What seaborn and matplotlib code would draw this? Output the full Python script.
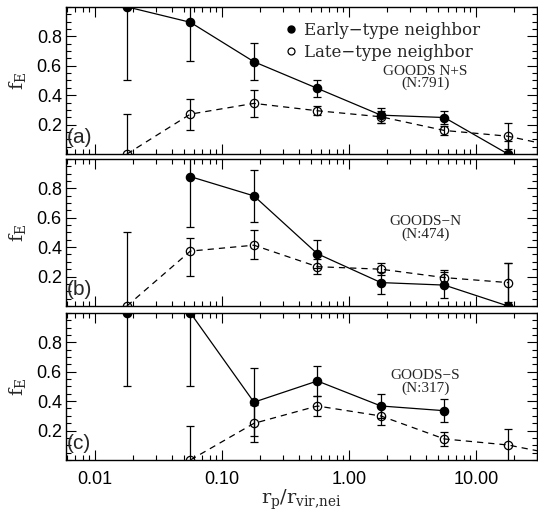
import numpy as np
import pandas as pd
import matplotlib
matplotlib.use("Agg")
import matplotlib.pyplot as plt
from matplotlib.lines import Line2D
from matplotlib.ticker import FixedLocator, MultipleLocator, LogLocator, NullFormatter
import seaborn as sns

# Projected separation bins (r_p / r_vir of the neighbour)
rp_bins = [0.0178, 0.0562, 0.178, 0.562, 1.78, 5.62, 17.8, 56.2]

# GOODS N+S
ns_early = [1.00, 0.895, 0.627, 0.446, 0.264, 0.248, 0.0]
ns_early_err = [0.50, 0.26, 0.124, 0.06, 0.05, 0.045, 0.09]
ns_late = [0.0, 0.271, 0.344, 0.294, 0.253, 0.160, 0.121, 0.028]
ns_late_err = [0.27, 0.105, 0.09, 0.03, 0.04, 0.03, 0.09, 0.0]

# GOODS-N
n_early = [np.nan, 0.879, 0.748, 0.355, 0.159, 0.142, 0.0]
n_early_err = [0.0, 0.345, 0.178, 0.095, 0.075, 0.09, 0.29]
n_late = [0.0, 0.373, 0.413, 0.267, 0.250, 0.193, 0.159]
n_late_err_lo = [0.0, 0.166, 0.097, 0.05, 0.04, 0.05, 0.13]
n_late_err_hi = [0.50, 0.09, 0.104, 0.05, 0.04, 0.05, 0.13]

# GOODS-S
s_early = [1.00, 1.00, 0.393, 0.537, 0.367, 0.335]
s_early_err = [0.50, 0.50, 0.23, 0.105, 0.08, 0.08]
s_late = [np.nan, 0.0, 0.249, 0.367, 0.299, 0.143, 0.102, 0.017]
s_late_err = [0.0, 0.234, 0.124, 0.07, 0.06, 0.05, 0.11, 0.0]

panel_tags = ["(a)", "(b)", "(c)"]
field_names = ["GOODS N+S\n(N:791)", "GOODS\u2212N\n(N:474)", "GOODS\u2212S\n(N:317)"]
legend_labels = ["Early\u2212type neighbor", "Late\u2212type neighbor"]
x_ticks = [0.01, 0.1, 1.0, 10.0]
x_ticklabels = ["0.01", "0.10", "1.00", "10.00"]
y_ticks = [0.2, 0.4, 0.6, 0.8]

sns.set_theme(style="ticks")
plt.rcParams["font.family"] = ["Liberation Sans", "DejaVu Sans"]
plt.rcParams["mathtext.fontset"] = "dejavuserif"

fig = plt.figure(figsize=(5.38, 5.11), dpi=100)
left, width, height = 0.1227, 0.875, 0.288
bottoms = [0.6986, 0.4012, 0.0998]
axes = [fig.add_axes([left, b, width, height]) for b in bottoms]


def series_frame(y, yerr_lo, yerr_hi):
    n = len(y)
    return pd.DataFrame({"x": rp_bins[:n], "y": y,
                         "lo": yerr_lo, "hi": yerr_hi}).dropna(subset=["y"])


panels = [
    (series_frame(ns_early, ns_early_err, ns_early_err),
     series_frame(ns_late, ns_late_err, ns_late_err)),
    (series_frame(n_early, n_early_err, n_early_err),
     series_frame(n_late, n_late_err_lo, n_late_err_hi)),
    (series_frame(s_early, s_early_err, s_early_err),
     series_frame(s_late, s_late_err, s_late_err)),
]

for i, (ax, (early, late)) in enumerate(zip(axes, panels)):
    for df, ls, face in [(early, "-", "black"), (late, (0, (5, 4)), "none")]:
        sns.lineplot(data=df, x="x", y="y", ax=ax, color="black", lw=0.9,
                     linestyle=ls, marker="o", markersize=6,
                     markerfacecolor=face, markeredgecolor="black",
                     markeredgewidth=0.9, estimator=None, sort=False)
        ax.errorbar(df["x"], df["y"], yerr=[df["lo"], df["hi"]], fmt="none",
                    ecolor="black", elinewidth=0.9, capsize=3, capthick=0.9)

    ax.set_xscale("log")
    ax.set_xlim(0.0059, 30)
    ax.set_ylim(0, 1.0)
    ax.xaxis.set_major_locator(FixedLocator(x_ticks))
    ax.xaxis.set_minor_locator(LogLocator(base=10, subs=np.arange(2, 10)))
    ax.xaxis.set_minor_formatter(NullFormatter())
    ax.yaxis.set_major_locator(FixedLocator(y_ticks))
    ax.yaxis.set_minor_locator(MultipleLocator(0.05))
    ax.tick_params(which="both", direction="in", top=True, right=True,
                   width=0.8, colors="black")
    ax.tick_params(which="major", length=7, labelsize=13, pad=3)
    ax.tick_params(axis="x", which="major", pad=8)
    ax.tick_params(which="minor", length=3.5)
    for sp in ax.spines.values():
        sp.set_linewidth(1.0)
        sp.set_color("black")
    ax.set_yticklabels([f"{t:.1f}" for t in y_ticks])
    if i < 2:
        ax.set_xticklabels([])
        ax.set_xlabel("")
    else:
        ax.set_xticklabels(x_ticklabels)
        ax.set_xlabel(r"$\mathrm{r_p/r_{vir{,}nei}}$", fontsize=14, labelpad=0)
    ax.set_ylabel(r"$\mathrm{f_E}$", fontsize=14, labelpad=6)

    ax.text(0.006, 0.11, panel_tags[i], transform=ax.transData, fontsize=15,
            ha="left", va="center")
    ypos = 0.52 if i == 0 else 0.53
    ax.text(0.763, ypos, field_names[i], transform=ax.transAxes,
            fontsize=11, family=["Liberation Serif", "DejaVu Serif"],
            ha="center", va="center", linespacing=0.92)

handles = [
    Line2D([], [], ls="none", marker="o", markersize=5, color="black",
           markerfacecolor="black"),
    Line2D([], [], ls="none", marker="o", markersize=5, color="black",
           markerfacecolor="none", markeredgewidth=0.9),
]
axes[0].legend(handles, legend_labels, loc="upper left",
               bbox_to_anchor=(0.435, 1.0), frameon=False, handlelength=0.6,
               handletextpad=0.5, labelspacing=0.28,
               prop={"family": ["DejaVu Serif"], "size": 12})

fig.savefig("out.png", dpi=100)
